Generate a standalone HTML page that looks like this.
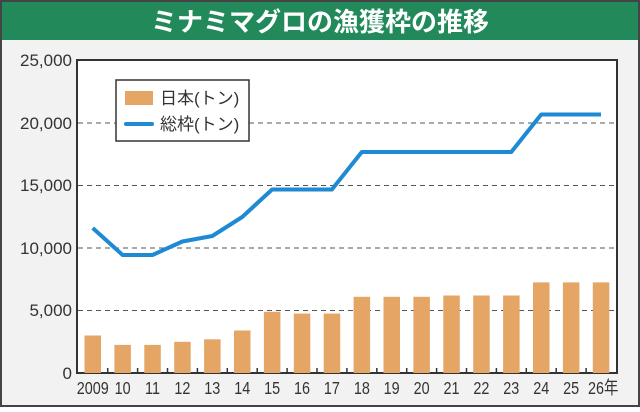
<!DOCTYPE html>
<html><head><meta charset="utf-8"><style>
html,body{margin:0;padding:0;background:#fff;}
body{width:640px;height:407px;overflow:hidden;font-family:"Liberation Sans","Noto Sans CJK JP",sans-serif;}
</style></head><body>
<svg width="640" height="407" viewBox="0 0 640 407" xmlns="http://www.w3.org/2000/svg" font-family="Liberation Sans, Noto Sans CJK JP, sans-serif">
<rect x="0" y="0" width="640" height="407" fill="#444"/>
<rect x="2" y="2" width="636" height="403" fill="#f2f2f2"/>
<rect x="2" y="2" width="636" height="38" fill="#22895a"/>
<text x="320" y="31" text-anchor="middle" font-size="26" font-weight="bold" fill="#fff" font-family="Noto Sans CJK JP, sans-serif">ミナミマグロの漁獲枠の推移</text>
<rect x="77" y="60" width="540" height="313" fill="#fff" stroke="#333" stroke-width="2"/>
<g stroke="#555" stroke-width="1" stroke-dasharray="5,4">
<line x1="78" y1="123" x2="616" y2="123"/>
<line x1="78" y1="185.5" x2="616" y2="185.5"/>
<line x1="78" y1="248" x2="616" y2="248"/>
<line x1="78" y1="310.5" x2="616" y2="310.5"/>
</g>
<g font-size="17" fill="#333" text-anchor="end">
<text x="72" y="66">25,000</text>
<text x="72" y="129">20,000</text>
<text x="72" y="191">15,000</text>
<text x="72" y="254">10,000</text>
<text x="72" y="316">5,000</text>
<text x="72" y="379">0</text>
</g>
<g fill="#e5a564">
<rect x="84.5" y="335.5" width="16.5" height="37.5"/>
<rect x="114.4" y="344.9" width="16.5" height="28.1"/>
<rect x="144.3" y="344.9" width="16.5" height="28.1"/>
<rect x="174.2" y="341.8" width="16.5" height="31.2"/>
<rect x="204.1" y="339.3" width="16.5" height="33.7"/>
<rect x="234" y="330.5" width="16.5" height="42.5"/>
<rect x="263.9" y="311.8" width="16.5" height="61.2"/>
<rect x="293.8" y="313.6" width="16.5" height="59.4"/>
<rect x="323.7" y="313.6" width="16.5" height="59.4"/>
<rect x="353.6" y="296.8" width="16.5" height="76.2"/>
<rect x="383.5" y="296.8" width="16.5" height="76.2"/>
<rect x="413.4" y="296.8" width="16.5" height="76.2"/>
<rect x="443.3" y="295.5" width="16.5" height="77.5"/>
<rect x="473.2" y="295.5" width="16.5" height="77.5"/>
<rect x="503.1" y="295.5" width="16.5" height="77.5"/>
<rect x="533" y="282.4" width="16.5" height="90.6"/>
<rect x="562.9" y="282.4" width="16.5" height="90.6"/>
<rect x="592.8" y="282.4" width="16.5" height="90.6"/>
</g>
<g stroke="#333" stroke-width="1.5">
<line x1="107.7" y1="368" x2="107.7" y2="373"/><line x1="137.6" y1="368" x2="137.6" y2="373"/><line x1="167.5" y1="368" x2="167.5" y2="373"/><line x1="197.4" y1="368" x2="197.4" y2="373"/><line x1="227.3" y1="368" x2="227.3" y2="373"/><line x1="257.2" y1="368" x2="257.2" y2="373"/><line x1="287.1" y1="368" x2="287.1" y2="373"/><line x1="317" y1="368" x2="317" y2="373"/><line x1="346.9" y1="368" x2="346.9" y2="373"/><line x1="376.8" y1="368" x2="376.8" y2="373"/><line x1="406.7" y1="368" x2="406.7" y2="373"/><line x1="436.6" y1="368" x2="436.6" y2="373"/><line x1="466.5" y1="368" x2="466.5" y2="373"/><line x1="496.4" y1="368" x2="496.4" y2="373"/><line x1="526.3" y1="368" x2="526.3" y2="373"/><line x1="556.2" y1="368" x2="556.2" y2="373"/><line x1="586.1" y1="368" x2="586.1" y2="373"/>
</g>
<polyline fill="none" stroke="#1f8ad4" stroke-width="4" stroke-linejoin="round" points="92.7,228 122.6,255 152.5,255 182.4,241.5 212.3,236 242.2,217 272.1,189.5 302,189.5 331.9,189.5 361.8,152 391.7,152 421.6,152 451.5,152 481.4,152 511.3,152 541.2,114.5 571.1,114.5 601,114.5"/>
<g font-size="18" fill="#333" text-anchor="middle" transform="scale(0.8,1)">
<text x="115.9" y="394">2009</text>
<text x="153.3" y="394">10</text>
<text x="190.6" y="394">11</text>
<text x="228" y="394">12</text>
<text x="265.4" y="394">13</text>
<text x="302.8" y="394">14</text>
<text x="340.1" y="394">15</text>
<text x="377.5" y="394">16</text>
<text x="414.9" y="394">17</text>
<text x="452.3" y="394">18</text>
<text x="489.6" y="394">19</text>
<text x="527" y="394">20</text>
<text x="564.4" y="394">21</text>
<text x="601.8" y="394">22</text>
<text x="639.1" y="394">23</text>
<text x="676.5" y="394">24</text>
<text x="713.9" y="394">25</text>
<text x="754" y="394">26年</text>
</g>
<rect x="116" y="80" width="133" height="61" fill="#fff" stroke="#333" stroke-width="1.5"/>
<rect x="125" y="91" width="28" height="14" fill="#e5a564"/>
<line x1="126" y1="124" x2="152" y2="124" stroke="#1f8ad4" stroke-width="4" stroke-linecap="round"/>
<text x="160" y="104" font-size="17" fill="#333">日本(トン)</text>
<text x="160" y="130" font-size="17" fill="#333">総枠(トン)</text>
</svg>
</body></html>
